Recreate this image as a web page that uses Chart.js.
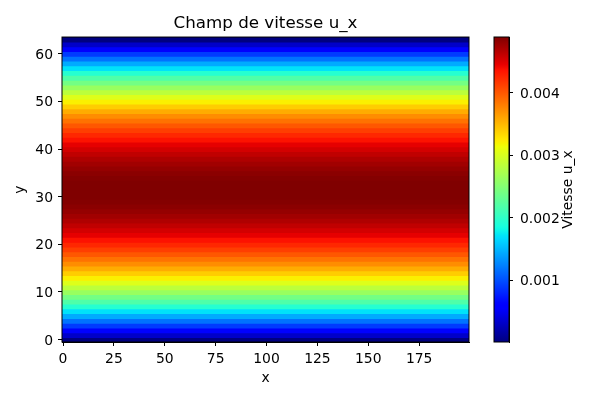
<!DOCTYPE html>
<html>
<head>
<meta charset="utf-8">
<script src="https://cdn.jsdelivr.net/npm/chart.js@4.4.0/dist/chart.umd.min.js"></script>
<style>
  body { margin: 0; background: #fff; }
  #wrap { position: relative; width: 600px; height: 400px; }
  #wrap canvas { position: absolute; left: 0; top: 0; }
</style>
</head>
<body>
<div id="wrap">
  <canvas id="field" width="600" height="400"></canvas>
  <canvas id="cbar" width="600" height="400"></canvas>
</div>
<script>
// u_x per row y = 0..63 (constant along x)
const uxProfile = [
  0.00001, 0.00032, 0.00061, 0.00090, 0.00117, 0.00144, 0.00170, 0.00194,
  0.00218, 0.00240, 0.00262, 0.00283, 0.00303, 0.00321, 0.00339, 0.00356,
  0.00372, 0.00386, 0.00400, 0.00413, 0.00425, 0.00436, 0.00446, 0.00454,
  0.00462, 0.00469, 0.00475, 0.00480, 0.00484, 0.00487, 0.00489, 0.00489,
  0.00489, 0.00489, 0.00487, 0.00484, 0.00480, 0.00475, 0.00469, 0.00462,
  0.00454, 0.00446, 0.00436, 0.00425, 0.00413, 0.00400, 0.00386, 0.00372,
  0.00356, 0.00339, 0.00321, 0.00303, 0.00283, 0.00262, 0.00240, 0.00218,
  0.00194, 0.00170, 0.00144, 0.00117, 0.00090, 0.00061, 0.00032, 0.00001
];
const nx = 200;
const xTicks = [0, 25, 50, 75, 100, 125, 150, 175];
const yTicks = [0, 10, 20, 30, 40, 50, 60];
const cbTicks = [0.001, 0.002, 0.003, 0.004];

const vmin = Math.min(...uxProfile);
const vmax = Math.max(...uxProfile);

// matplotlib 'jet'
const jetSeg = {
  r: [[0, 0], [0.35, 0], [0.66, 1], [0.89, 1], [1, 0.5]],
  g: [[0, 0], [0.125, 0], [0.375, 1], [0.64, 1], [0.91, 0], [1, 0]],
  b: [[0, 0.5], [0.11, 1], [0.34, 1], [0.65, 0], [1, 0]]
};
function interp(seg, t) {
  for (let i = 1; i < seg.length; i++) {
    if (t <= seg[i][0]) {
      const a = seg[i - 1], b = seg[i];
      return a[1] + (b[1] - a[1]) * (t - a[0]) / (b[0] - a[0]);
    }
  }
  return seg[seg.length - 1][1];
}
function jet(t) {
  t = Math.max(0, Math.min(1, t));
  const r = Math.round(interp(jetSeg.r, t) * 255);
  const g = Math.round(interp(jetSeg.g, t) * 255);
  const b = Math.round(interp(jetSeg.b, t) * 255);
  return 'rgb(' + r + ',' + g + ',' + b + ')';
}

Chart.defaults.font.family = "'DejaVu Sans', sans-serif";
Chart.defaults.font.size = 13.9;
Chart.defaults.color = '#000';

const frame = {
  id: 'frame',
  afterDraw(chart) {
    const { ctx, chartArea: a } = chart;
    ctx.save();
    ctx.strokeStyle = '#000';
    ctx.lineWidth = 1;
    ctx.strokeRect(a.left, a.top, a.right - a.left, a.bottom - a.top);
    ctx.restore();
  }
};

const cells = uxProfile.map((v, i) => ({ x: [-0.5, nx - 0.5], y: i }));
const cellColors = uxProfile.map(v => jet((v - vmin) / (vmax - vmin)));

new Chart(document.getElementById('field'), {
  type: 'bar',
  data: {
    datasets: [{
      data: cells,
      backgroundColor: cellColors,
      borderWidth: 0,
      barPercentage: 1,
      categoryPercentage: 1,
      inflateAmount: 0.7,
      clip: 0
    }]
  },
  options: {
    responsive: false,
    animation: false,
    indexAxis: 'y',
    layout: { padding: { left: 0, right: 131, top: 0, bottom: 0 } },
    plugins: {
      legend: { display: false },
      tooltip: { enabled: false },
      title: {
        display: true,
        text: 'Champ de vitesse u_x',
        fullSize: false,
        color: '#000',
        font: { size: 16.7, weight: 'normal' },
        padding: { top: 14, bottom: 3 }
      }
    },
    scales: {
      x: {
        type: 'linear',
        min: -0.5,
        max: nx - 0.5,
        offset: false,
        grid: { drawOnChartArea: false, tickLength: 4, color: '#000', offset: false },
        border: { color: '#000' },
        ticks: { padding: 5 },
        afterBuildTicks: s => { s.ticks = xTicks.map(v => ({ value: v })); },
        afterFit: s => { s.height = 58; },
        title: { display: true, text: 'x', padding: { top: 0, bottom: 13 } }
      },
      y: {
        type: 'linear',
        min: -0.5,
        max: uxProfile.length - 0.5,
        offset: false,
        grid: { drawOnChartArea: false, tickLength: 4, color: '#000', offset: false },
        border: { color: '#000' },
        ticks: { padding: 5, labelOffset: 1.5 },
        afterBuildTicks: s => { s.ticks = yTicks.map(v => ({ value: v })); },
        afterFit: s => { s.width = 62; },
        title: { display: true, text: 'y', padding: { top: 12, bottom: 0 } }
      }
    }
  },
  plugins: [frame]
});

const cbLabel = {
  id: 'cbLabel',
  afterDraw(chart) {
    const { ctx, chartArea: a } = chart;
    ctx.save();
    ctx.translate(568, (a.top + a.bottom) / 2);
    ctx.rotate(-Math.PI / 2);
    ctx.font = "13.9px 'DejaVu Sans', sans-serif";
    ctx.fillStyle = '#000';
    ctx.textAlign = 'center';
    ctx.textBaseline = 'middle';
    ctx.fillText('Vitesse u_x', 0, 0);
    ctx.restore();
  }
};

function cbGradient(context) {
  const chart = context.chart;
  const y = chart.scales.y;
  if (!chart.chartArea || !y) return '#000080';
  const g = chart.ctx.createLinearGradient(0, y.getPixelForValue(vmin), 0, y.getPixelForValue(vmax));
  for (let i = 0; i <= 100; i++) g.addColorStop(i / 100, jet(i / 100));
  return g;
}

new Chart(document.getElementById('cbar'), {
  type: 'bar',
  data: {
    labels: ['u_x'],
    datasets: [{
      data: [[vmin, vmax]],
      backgroundColor: cbGradient,
      borderWidth: 0,
      barPercentage: 1,
      categoryPercentage: 1
    }]
  },
  options: {
    responsive: false,
    animation: false,
    layout: { padding: { left: 494, right: 0, top: 37, bottom: 58 } },
    plugins: { legend: { display: false }, tooltip: { enabled: false } },
    scales: {
      x: { display: false },
      y: {
        position: 'right',
        min: vmin,
        max: vmax,
        grid: { drawOnChartArea: false, tickLength: 4, color: '#000' },
        border: { color: '#000' },
        ticks: { padding: 7, labelOffset: 1.5, callback: v => v.toFixed(3) },
        afterBuildTicks: s => { s.ticks = cbTicks.map(v => ({ value: v })); },
        afterFit: s => { s.width = 91; }
      }
    }
  },
  plugins: [frame, cbLabel]
});
</script>
</body>
</html>
